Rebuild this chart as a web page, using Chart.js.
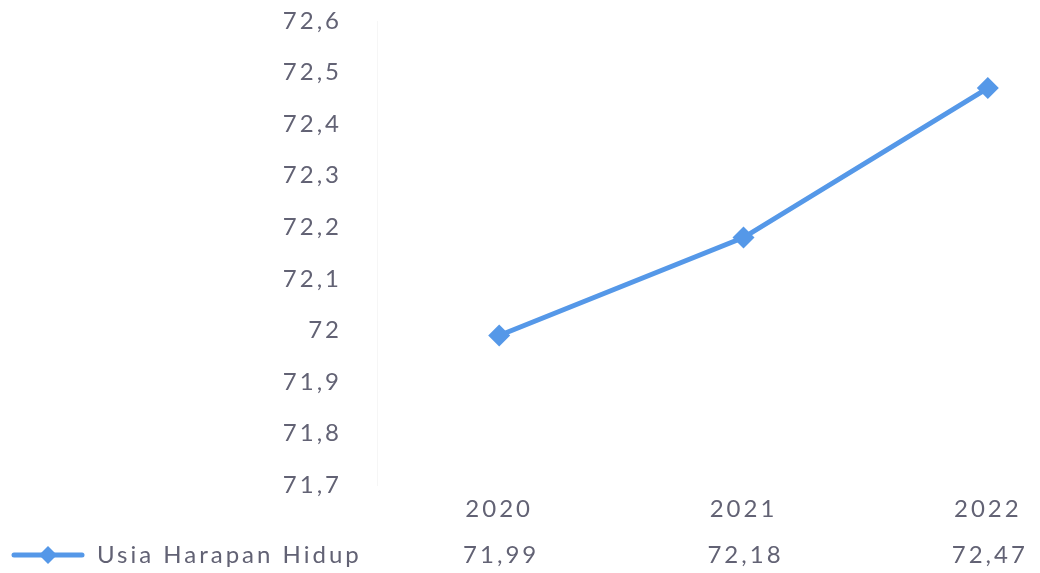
<!DOCTYPE html>
<html>
<head>
<meta charset="utf-8">
<script src="https://cdn.jsdelivr.net/npm/chart.js@4.4.0/dist/chart.umd.min.js"></script>
<style>
  html, body { margin: 0; padding: 0; background: #ffffff; overflow: hidden; width: 1040px; height: 573px; }
  #wrap { position: absolute; left: 0; top: 0; width: 1121px; height: 573px; }
</style>
</head>
<body>
<div id="wrap"><canvas id="c"></canvas></div>
<script>
const categories = ['2020', '2021', '2022'];
const seriesName = 'Usia Harapan Hidup';
const seriesValues = [71.99, 72.18, 72.47];
const yMin = 71.7;
const yMax = 72.6;
const yStep = 0.1;

const lineColor = '#5598e8';
const textColor = '#626274';
const fontFamily = 'Lato, "Open Sans", sans-serif';
const fontSize = 24;
const spacing = '3px';

const fmt = v => v.toLocaleString('id-ID', { maximumFractionDigits: 2 });

const spacingPlugin = {
  id: 'spacing',
  beforeDraw(chart) { chart.ctx.letterSpacing = spacing; }
};

const dataTablePlugin = {
  id: 'dataTable',
  afterDraw(chart) {
    const ctx = chart.ctx;
    const xs = chart.scales.x;
    const rowY = 555;
    ctx.save();
    ctx.letterSpacing = spacing;
    ctx.font = fontSize + 'px ' + fontFamily;
    ctx.fillStyle = textColor;
    ctx.textBaseline = 'middle';
    ctx.textAlign = 'center';
    seriesValues.forEach((v, i) => {
      ctx.fillText(fmt(v), xs.getPixelForValue(i) + 2, rowY);
    });
    // legend key
    ctx.strokeStyle = lineColor;
    ctx.lineWidth = 5;
    ctx.lineCap = 'round';
    ctx.beginPath();
    ctx.moveTo(14, rowY);
    ctx.lineTo(82, rowY);
    ctx.stroke();
    ctx.fillStyle = lineColor;
    ctx.beginPath();
    const cx = 48, r = 9;
    ctx.moveTo(cx, rowY - r);
    ctx.lineTo(cx + r, rowY);
    ctx.lineTo(cx, rowY + r);
    ctx.lineTo(cx - r, rowY);
    ctx.closePath();
    ctx.fill();
    ctx.fillStyle = textColor;
    ctx.textAlign = 'left';
    ctx.fillText(seriesName, 97, rowY);
    ctx.restore();
  }
};

new Chart(document.getElementById('c'), {
  type: 'line',
  data: {
    labels: categories,
    datasets: [{
      label: seriesName,
      data: seriesValues,
      borderColor: lineColor,
      backgroundColor: lineColor,
      borderWidth: 5,
      pointStyle: 'rectRot',
      pointRadius: 11,
      pointBackgroundColor: lineColor,
      pointBorderColor: lineColor,
      pointBorderWidth: 0,
      tension: 0,
      clip: false
    }]
  },
  options: {
    responsive: true,
    maintainAspectRatio: false,
    animation: false,
    layout: { padding: { top: 21, left: 0, right: 0, bottom: 0 } },
    plugins: {
      legend: { display: false },
      tooltip: { enabled: false }
    },
    scales: {
      x: {
        offset: true,
        grid: { display: false, drawTicks: false },
        border: { display: false },
        ticks: {
          color: textColor,
          font: { family: fontFamily, size: fontSize },
          padding: 10,
          maxRotation: 0
        },
        afterFit(s) { s.height = 88; s.paddingLeft = 0; s.paddingRight = 0; }
      },
      y: {
        min: yMin,
        max: yMax,
        grid: { display: false, drawTicks: false },
        border: { display: true, color: '#f6f6f6', width: 1 },
        ticks: {
          stepSize: yStep,
          color: textColor,
          font: { family: fontFamily, size: fontSize },
          padding: 35,
          callback: v => fmt(Math.round(v * 10) / 10)
        },
        afterFit(s) { s.width = 377; s.paddingTop = 0; s.paddingBottom = 0; }
      }
    }
  },
  plugins: [spacingPlugin, dataTablePlugin]
});
</script>
</body>
</html>
